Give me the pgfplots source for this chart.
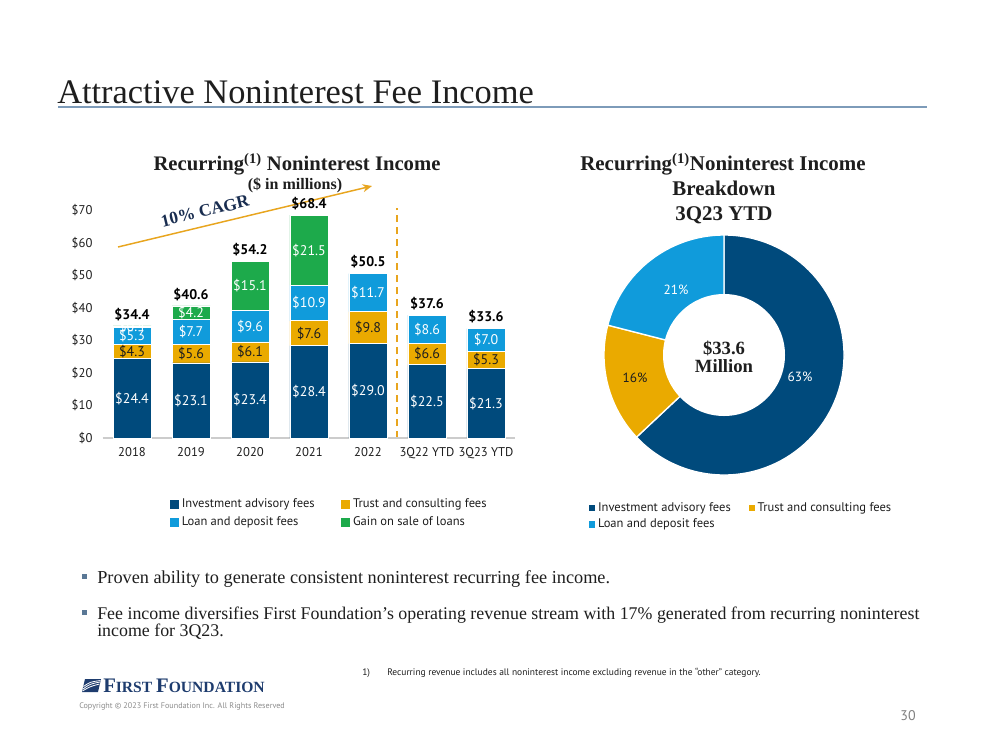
\documentclass[border=0pt]{standalone}
\usepackage{fontspec}
\setmainfont{Liberation Serif}
\setsansfont{PT Sans}
\usepackage{pgfplots}
\pgfplotsset{compat=1.18}
\usepackage{pgfplotstable}
\usetikzlibrary{arrows.meta}

\definecolor{invc}{RGB}{0,74,124}
\definecolor{trustc}{RGB}{234,170,0}
\definecolor{loanc}{RGB}{16,155,219}
\definecolor{gainc}{RGB}{29,170,75}
\definecolor{navy}{RGB}{25,45,80}
\definecolor{rulec}{RGB}{125,155,185}
\definecolor{arrowc}{RGB}{232,165,30}
\definecolor{logoc}{RGB}{30,60,110}
\definecolor{bulletc}{RGB}{90,120,150}
\definecolor{txt}{RGB}{30,30,30}

\pgfplotstableread{
x inv trust loan gain total
0 24.4 4.3 5.3 0.4 34.4
1 23.1 5.6 7.7 4.2 40.6
2 23.4 6.1 9.6 15.1 54.2
3 28.4 7.6 10.9 21.5 68.4
4 29.0 9.8 11.7 0 50.5
5 22.5 6.6 8.6 0 37.6
6 21.3 5.3 7.0 0 33.6
}\bardata

\newcommand\fsz[1]{\fontsize{#1}{1.2\dimexpr#1\relax}\selectfont}
\pgfplotsset{mylab/.style={nodes near coords={\$\pgfmathprintnumber[fixed,fixed zerofill,precision=1]{\pgfplotspointmeta}}}}

\begin{document}
\begin{tikzpicture}
\begin{scope}[x=0.75pt,y=-0.75pt]
\path[use as bounding box, fill=white] (0,0) rectangle (999,750);
\coordinate (barSW) at (102.5,438);
\coordinate (pieO) at (724,355);
% title
\node[anchor=base west, inner sep=0, text=txt, font=\fsz{25.8pt}] at (57,103) {Attractive Noninterest Fee Income};
\draw[rulec, line width=1.5pt] (58,106.5) -- (927,106.5);
% chart titles
\node[anchor=base, inner sep=0, text=txt, font=\bfseries\fsz{15.5pt}] at (297,170) {Recurring\textsuperscript{(1)} Noninterest Income};
\node[anchor=base, inner sep=0, text=txt, font=\bfseries\fsz{12pt}] at (295,189) {(\$ in millions)};
\node[anchor=base, inner sep=0, text=txt, font=\bfseries\fsz{15.7pt}] at (723,170) {Recurring\textsuperscript{(1)}Noninterest Income};
\node[anchor=base, inner sep=0, text=txt, font=\bfseries\fsz{15.7pt}] at (724,195) {Breakdown};
\node[anchor=base, inner sep=0, text=txt, font=\bfseries\fsz{15.7pt}] at (724,220) {3Q23 YTD};
% CAGR arrow
\draw[arrowc, line width=1.1pt, -{Stealth[length=7pt,width=6pt]}] (118,247) -- (372,186);
\node[rotate=13.5, text=navy, font=\bfseries\fsz{13pt}, inner sep=1pt] at (205,211) {10\% CAGR};
% bullets
\fill[bulletc] (82,573.5) rectangle (87,578.5);
\fill[bulletc] (82,609.5) rectangle (87,614.5);
\node[anchor=base west, inner sep=0, text=txt, font=\fsz{13.7pt}] at (97,583) {Proven ability to generate consistent noninterest recurring fee income.};
\node[anchor=base west, inner sep=0, text=txt, font=\fsz{13.4pt}] at (97,619) {Fee income diversifies First Foundation’s operating revenue stream with 17\% generated from recurring noninterest};
\node[anchor=base west, inner sep=0, text=txt, font=\fsz{13.4pt}] at (97,636) {income for 3Q23.};
% footnote
\node[anchor=base west, inner sep=0, text=txt, font=\sffamily\fsz{7.1pt}] at (362,675) {1)};
\node[anchor=base west, inner sep=0, text=txt, font=\sffamily\fsz{7.1pt}] at (387,675) {Recurring revenue includes all noninterest income excluding revenue in the “other” category.};
% logo
\fill[logoc] (85,679) -- (101,679) -- (98,692) -- (82,692) -- cycle;
\draw[white, line width=0.6pt] (83,689) .. controls (90,684) .. (100,682);
\draw[white, line width=0.6pt] (83.5,686.5) .. controls (90,682) .. (100.5,680.5);
\draw[white, line width=0.6pt] (82.5,691) .. controls (90,686.5) .. (99.5,684);
\node[anchor=base west, inner sep=0, text=logoc, font=\bfseries] at (103,692) {\fsz{15.5pt}F\fsz{11.7pt}IRST \fsz{15.5pt}F\fsz{11.7pt}OUNDATION};
\node[anchor=base west, inner sep=0, text=black!45, font=\sffamily\fsz{6.1pt}] at (79,708) {Copyright © 2023 First Foundation Inc. All Rights Reserved};
\node[text=black!50, font=\sffamily\fsz{10.5pt}] at (908,716) {30};
\end{scope}

% ---------------- stacked bars
\begin{axis}[
  at={(barSW)}, anchor=south west, scale only axis,
  width=309.75pt, height=171pt,
  xmin=-0.5, xmax=6.5, ymin=0, ymax=70,
  ybar stacked, bar width=28.5pt,
  axis line style={draw=none}, tick style={draw=none},
  xtick={0,...,6}, xticklabels={2018,2019,2020,2021,2022,3Q22 YTD,3Q23 YTD},
  ytick={0,10,...,70}, yticklabel={\$\pgfmathprintnumber{\tick}},
  /pgf/number format/assume math mode=true,
  ticklabel style={font=\sffamily\fsz{9.5pt}, text=txt},
  yticklabel style={xshift=-4pt},
  xticklabel style={yshift=-3.5pt},
  clip=false,
  legend columns=2,
  legend style={draw=none, fill=none, inner sep=0pt, at={(0.163,-0.254)}, anchor=north west,
    font=\sffamily\fsz{9.4pt}, text=txt, row sep=1.5pt,
    /tikz/every even column/.append style={column sep=18pt}},
  legend cell align=left,
  legend image code/.code={\fill[#1,draw=none] (0pt,-3.4pt) rectangle (6.8pt,3.4pt);},
]
\addplot[fill=invc, draw=white, line width=0.4pt] table[x=x,y=inv]{\bardata};
\addplot[fill=trustc, draw=white, line width=0.4pt] table[x=x,y=trust]{\bardata};
\addplot[fill=loanc, draw=white, line width=0.4pt] table[x=x,y=loan]{\bardata};
\addplot[fill=gainc, draw=white, line width=0.3pt] table[x=x,y=gain]{\bardata};
\legend{Investment advisory fees, Trust and consulting fees, Loan and deposit fees, Gain on sale of loans}
\draw[black!20, line width=0.8pt] (axis cs:-0.5,0) -- (axis cs:6.5,0);
\draw[arrowc, line width=1.5pt, dash pattern=on 5pt off 4pt] (axis cs:4.5,0) -- (axis cs:4.5,70.6);
\end{axis}

% ---------------- bar labels
\begin{axis}[
  at={(barSW)}, anchor=south west, scale only axis,
  width=309.75pt, height=171pt,
  xmin=-0.5, xmax=6.5, ymin=0, ymax=70,
  hide axis, clip=false,
  /pgf/number format/assume math mode=true,
  point meta=explicit,
]
\addplot[draw=none, mark=none, mylab,
  every node near coord/.append style={anchor=center, text=white, font=\sffamily\fsz{10.5pt}}]
  table[x=x, y expr=\thisrow{inv}/2, meta=inv]{\bardata};
\addplot[draw=none, mark=none, mylab,
  every node near coord/.append style={anchor=center, text=txt, font=\sffamily\fsz{10.5pt}}]
  table[x=x, y expr=\thisrow{inv}+\thisrow{trust}/2, meta=trust]{\bardata};
\addplot[draw=none, mark=none, mylab,
  every node near coord/.append style={anchor=center, text=white, font=\sffamily\fsz{10.5pt}}]
  table[x=x, y expr=\thisrow{inv}+\thisrow{trust}+\thisrow{loan}/2, meta=loan]{\bardata};
\addplot[draw=none, mark=none, mylab, restrict x to domain=0:3,
  every node near coord/.append style={anchor=center, text=white, font=\sffamily\fsz{10.5pt}}]
  table[x=x, y expr=\thisrow{inv}+\thisrow{trust}+\thisrow{loan}+\thisrow{gain}/2, meta=gain]{\bardata};
\addplot[draw=none, mark=none, mylab,
  every node near coord/.append style={anchor=south, yshift=0.4pt, text=black, font=\sffamily\bfseries\fsz{10.5pt}}]
  table[x=x, y=total, meta=total]{\bardata};
\end{axis}

% ---------------- donut
\begin{axis}[
  at={(pieO)}, anchor=center, scale only axis,
  width=240pt, height=240pt,
  xmin=-160, xmax=160, ymin=-160, ymax=160,
  hide axis, clip=false,
  legend columns=2,
  legend style={draw=none, fill=none, inner sep=0pt, at={(0.078,0.047)}, anchor=north west,
    font=\sffamily\fsz{9.4pt}, text=txt, row sep=0pt,
    /tikz/every even column/.append style={column sep=11.5pt}},
  legend cell align=left,
  legend image code/.code={\fill[#1,draw=none] (0pt,-2.3pt) rectangle (4.6pt,2.3pt);},
]
% shares in percent: 63 (investment), 16 (trust), 21 (loan)
\fill[invc, draw=white, line width=1pt] (axis cs:0,0) -- ([shift={(90:90pt)}]axis cs:0,0)
  arc[start angle=90, end angle={90-3.6*63}, radius=90pt] -- cycle;
\fill[trustc, draw=white, line width=1pt] (axis cs:0,0) -- ([shift={({90-3.6*63}:90pt)}]axis cs:0,0)
  arc[start angle={90-3.6*63}, end angle={90-3.6*(63+16)}, radius=90pt] -- cycle;
\fill[loanc, draw=white, line width=1pt] (axis cs:0,0) -- ([shift={({90-3.6*(63+16)}:90pt)}]axis cs:0,0)
  arc[start angle={90-3.6*(63+16)}, end angle={90-3.6*(63+16+21)}, radius=90pt] -- cycle;
\fill[white] (axis cs:0,0) circle[radius=45.75pt];
\node[text=white, font=\sffamily\fsz{10pt}] at (axis cs:76,-22) {63\%};
\node[text=txt, font=\sffamily\fsz{10pt}] at (axis cs:-89,-23) {16\%};
\node[text=white, font=\sffamily\fsz{10pt}] at (axis cs:-48,65) {21\%};
\node[anchor=base, text=txt, font=\bfseries\fsz{14pt}] at (axis cs:0,1) {\$33.6};
\node[anchor=base, text=txt, font=\bfseries\fsz{14pt}] at (axis cs:0,-17) {Million};
\addlegendimage{fill=invc}
\addlegendentry{Investment advisory fees}
\addlegendimage{fill=trustc}
\addlegendentry{Trust and consulting fees}
\addlegendimage{fill=loanc}
\addlegendentry{Loan and deposit fees}
\end{axis}
\end{tikzpicture}
\end{document}
